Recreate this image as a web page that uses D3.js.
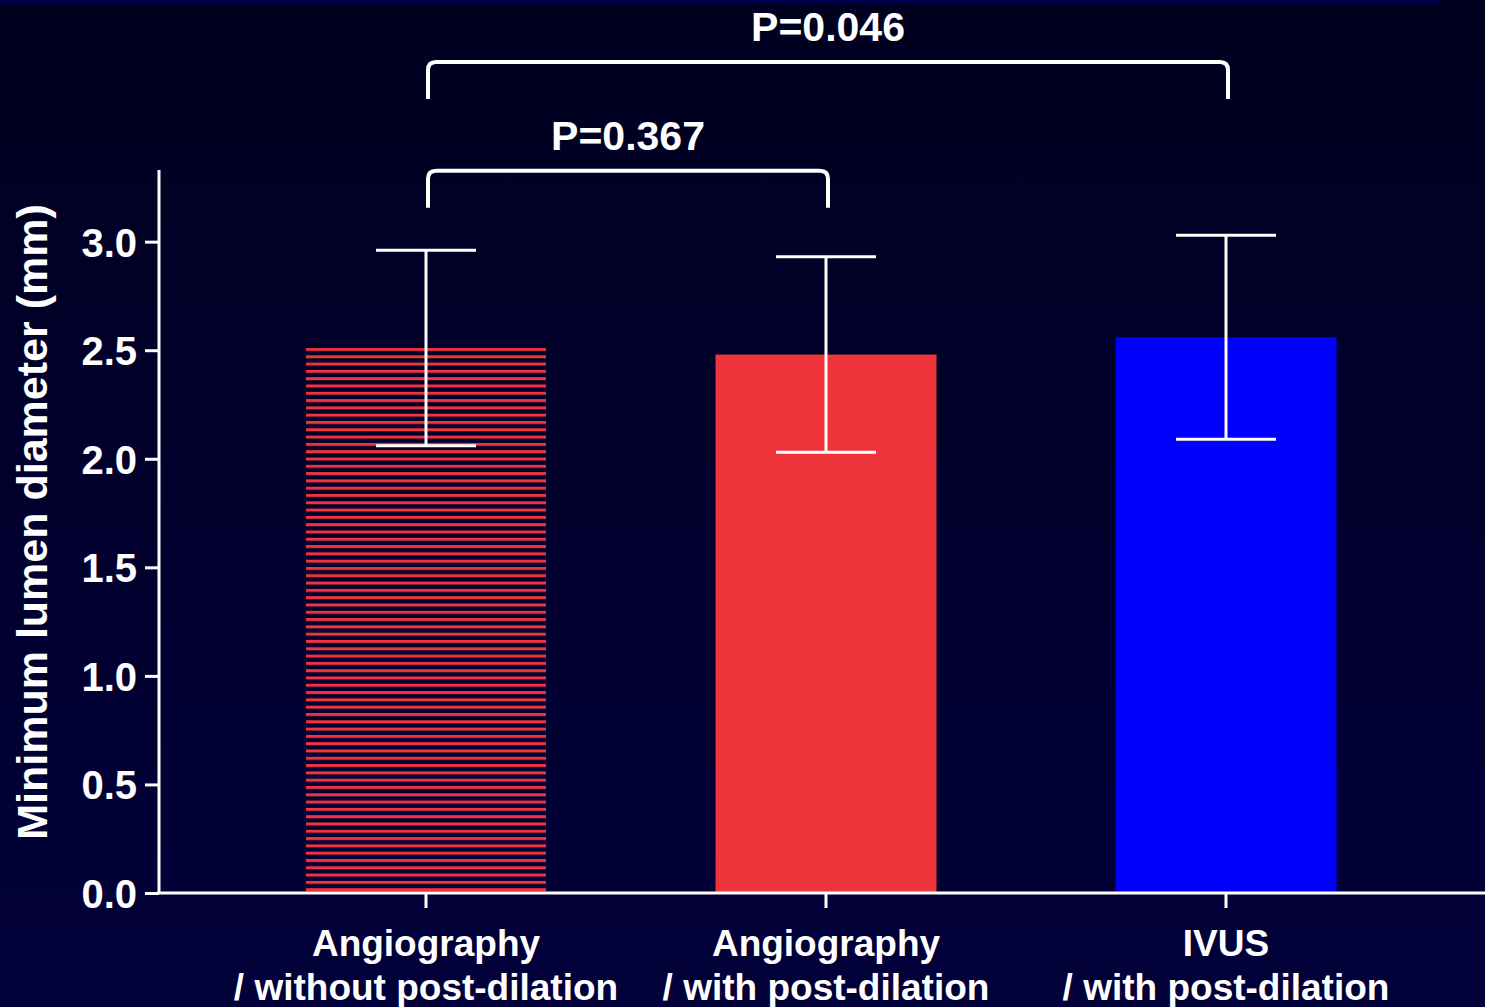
<!DOCTYPE html>
<html>
<head>
<meta charset="utf-8">
<script src="https://cdn.jsdelivr.net/npm/d3@7"></script>
<style>
  body { margin: 0; background: #000024; }
  svg { display: block; }
  text { font-family: "Liberation Sans", Arial, sans-serif; font-weight: bold; fill: #fff; }
</style>
</head>
<body>
<div id="chart"></div>
<script>
// data
var categories = ["Angiography\n/ without post-dilation", "Angiography\n/ with post-dilation", "IVUS\n/ with post-dilation"];
var means = [2.51, 2.48, 2.56];
var sds = [0.45, 0.45, 0.47];
var yTicks = [0, 0.5, 1.0, 1.5, 2.0, 2.5, 3.0];
var brackets = [
  { from: 0, to: 1, label: "P=0.367", level: 3.326 },
  { from: 0, to: 2, label: "P=0.046", level: 3.828 }
];

var width = 1485, height = 1007;
var svg = d3.select('#chart').append('svg')
  .attr('width', width)
  .attr('height', height);

var defs = svg.append('defs');
var grad = defs.append('linearGradient')
  .attr('id', 'bg').attr('x1', 0).attr('y1', 0).attr('x2', 0).attr('y2', 1);
grad.append('stop').attr('offset', '0%').attr('stop-color', '#000020');
grad.append('stop').attr('offset', '100%').attr('stop-color', '#02003a');

// striped fill for first bar
var stripe = defs.append('pattern')
  .attr('id', 'stripes')
  .attr('patternUnits', 'userSpaceOnUse')
  .attr('x', 0).attr('y', 348)
  .attr('width', 10).attr('height', 7.3);
stripe.append('rect')
  .attr('x', 0).attr('y', 0)
  .attr('width', 10).attr('height', 3)
  .attr('fill', '#f0343c');

svg.append('rect').attr('width', width).attr('height', height).attr('fill', 'url(#bg)');
svg.append('rect').attr('width', 1440).attr('height', 3).attr('fill', '#000050');

var y = d3.scaleLinear().domain([0, 3.33]).range([893, 170]);
var x = d3.scaleBand().domain(categories).range([226, 1426]);
var xc = function(i) { return x(categories[i]) + x.bandwidth() / 2; };

var barWidth = [240, 221, 221];
var barFill = ['url(#stripes)', '#f0343b', '#0000ff'];

// bars
svg.selectAll('.bar')
  .data(means)
  .enter()
  .append('rect')
  .attr('class', 'bar')
  .attr('x', function(d, i) { return xc(i) - barWidth[i] / 2; })
  .attr('width', function(d, i) { return barWidth[i]; })
  .attr('y', function(d) { return y(d); })
  .attr('height', function(d) { return y(0) - y(d); })
  .attr('fill', function(d, i) { return barFill[i]; });

// error bars
var err = svg.selectAll('.err')
  .data(means)
  .enter()
  .append('g')
  .attr('class', 'err')
  .attr('stroke', '#fff')
  .attr('stroke-width', 3);
err.append('line')
  .attr('x1', function(d, i) { return xc(i); })
  .attr('x2', function(d, i) { return xc(i); })
  .attr('y1', function(d, i) { return y(d + sds[i]); })
  .attr('y2', function(d, i) { return y(d - sds[i]); });
[1, -1].forEach(function(s) {
  err.append('line')
    .attr('x1', function(d, i) { return xc(i) - 50; })
    .attr('x2', function(d, i) { return xc(i) + 50; })
    .attr('y1', function(d, i) { return y(d + s * sds[i]); })
    .attr('y2', function(d, i) { return y(d + s * sds[i]); });
});

// y axis
var yAxis = d3.axisLeft(y)
  .tickValues(yTicks)
  .tickFormat(d3.format('.1f'))
  .tickSize(14)
  .tickPadding(8);
var gy = svg.append('g')
  .attr('transform', 'translate(159,0)')
  .call(yAxis);
gy.select('.domain').remove();
gy.append('line').attr('x1', 0).attr('x2', 0).attr('y1', 170).attr('y2', 893)
  .attr('stroke', '#fff').attr('stroke-width', 3);
gy.selectAll('.tick line').attr('stroke', '#fff').attr('stroke-width', 3);
gy.selectAll('.tick text')
  .attr('fill', '#fff')
  .style('font-size', '40px')
  .attr('dy', '0.36em');

// x axis
var xAxis = d3.axisBottom(x).tickSize(15).tickFormat('');
var gx = svg.append('g')
  .attr('transform', 'translate(0,893)')
  .call(xAxis);
gx.select('.domain').remove();
gx.append('line').attr('x1', 157).attr('x2', width).attr('y1', 0).attr('y2', 0)
  .attr('stroke', '#fff').attr('stroke-width', 3);
gx.selectAll('.tick line').attr('stroke', '#fff').attr('stroke-width', 3);
gx.selectAll('.tick').each(function(d) {
  var lines = d.split('\n');
  var t = d3.select(this).append('text')
    .attr('text-anchor', 'middle')
    .style('font-size', '37px');
  lines.forEach(function(l, k) {
    t.append('tspan').attr('x', 0).attr('y', 63 + k * 44).text(l);
  });
});

// y label
svg.append('text')
  .attr('transform', 'translate(47,522) rotate(-90)')
  .attr('text-anchor', 'middle')
  .style('font-size', '43px')
  .text('Minimum lumen diameter (mm)');

// significance brackets
brackets.forEach(function(b) {
  var x1 = xc(b.from) + 2, x2 = xc(b.to) + 2;
  var top = y(b.level), bottom = top + 37, r = 8;
  svg.append('path')
    .attr('d', 'M' + x1 + ',' + bottom + ' L' + x1 + ',' + (top + r) +
      ' Q' + x1 + ',' + top + ' ' + (x1 + r) + ',' + top +
      ' L' + (x2 - r) + ',' + top +
      ' Q' + x2 + ',' + top + ' ' + x2 + ',' + (top + r) +
      ' L' + x2 + ',' + bottom)
    .attr('fill', 'none')
    .attr('stroke', '#fff')
    .attr('stroke-width', 4);
  svg.append('text')
    .attr('x', (x1 + x2) / 2)
    .attr('y', top - 21)
    .attr('text-anchor', 'middle')
    .style('font-size', '41px')
    .text(b.label);
});
</script>
</body>
</html>
